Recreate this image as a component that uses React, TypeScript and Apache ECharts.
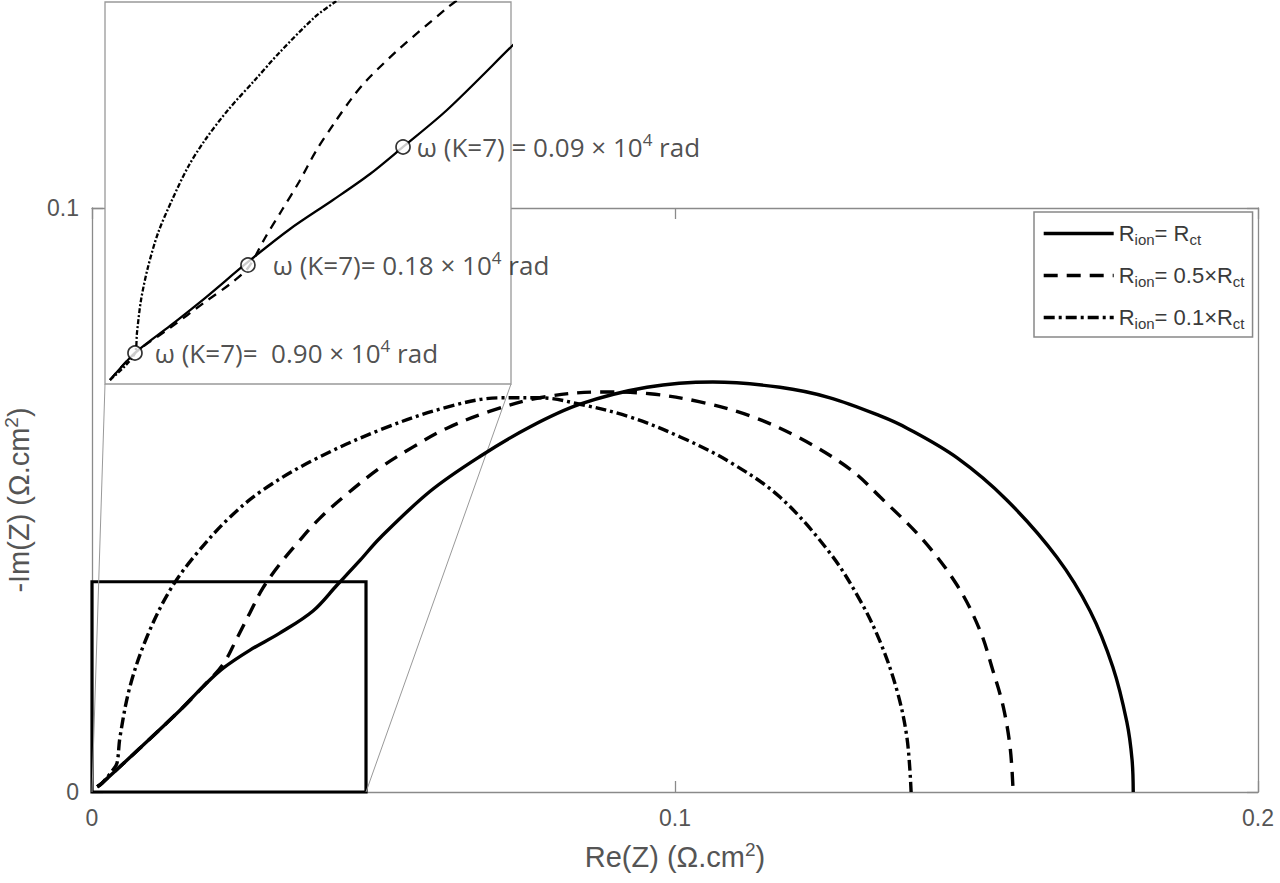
import React, { useEffect, useRef } from "react";
import * as echarts from "echarts";

// ---- Main plot data: [Re(Z), -Im(Z)] in Ω.cm² ----
const solidMain: [number, number][] = [
  [0.0009, 0.0009], [0.0017, 0.0015], [0.0082, 0.0075], [0.0151, 0.014], [0.019, 0.018],
  [0.0225, 0.0212], [0.0271, 0.0243], [0.0322, 0.0272], [0.0379, 0.031], [0.042, 0.0354],
  [0.046, 0.0397], [0.0494, 0.0435], [0.058, 0.0515], [0.0666, 0.0575], [0.0751, 0.0625],
  [0.0837, 0.0664], [0.0952, 0.0693], [0.1065, 0.0702], [0.118, 0.0693], [0.1266, 0.0675],
  [0.1352, 0.0644], [0.1398, 0.0623], [0.1484, 0.0572], [0.1569, 0.05], [0.1655, 0.0402],
  [0.1712, 0.031], [0.1751, 0.0214], [0.1775, 0.012], [0.1784, 0.0055], [0.1786, 0],
];
const dashedMain: [number, number][] = [
  [0.0009, 0.0009], [0.0017, 0.0015], [0.0082, 0.0075], [0.0151, 0.014], [0.019, 0.018],
  [0.0225, 0.0219], [0.0249, 0.0264], [0.0271, 0.0307], [0.0293, 0.0349], [0.0322, 0.039],
  [0.0352, 0.0426], [0.0391, 0.0469], [0.0437, 0.051], [0.0494, 0.0555], [0.0551, 0.0591],
  [0.0609, 0.0623], [0.0683, 0.0652], [0.0768, 0.0675], [0.0871, 0.0685], [0.0957, 0.0682],
  [0.1043, 0.0668], [0.1129, 0.0644], [0.1214, 0.0606], [0.13, 0.0553], [0.1352, 0.0505],
  [0.1425, 0.0432], [0.1484, 0.0354], [0.1523, 0.0277], [0.1545, 0.0209], [0.1563, 0.0146],
  [0.1575, 0.0075], [0.158, 0],
];
const dashDotMain: [number, number][] = [
  [0.0009, 0.0009], [0.0017, 0.0015], [0.0036, 0.0038], [0.0043, 0.005], [0.0048, 0.0094],
  [0.0065, 0.018], [0.0094, 0.0265], [0.0134, 0.0346], [0.018, 0.0409], [0.0237, 0.0471],
  [0.0293, 0.0517], [0.0379, 0.0568], [0.0494, 0.062], [0.0609, 0.0659], [0.07, 0.0675],
  [0.0768, 0.0675], [0.0837, 0.0664], [0.0923, 0.0642], [0.1009, 0.0608], [0.1094, 0.0565],
  [0.118, 0.0505], [0.1266, 0.0409], [0.1317, 0.0329], [0.1352, 0.0257], [0.1381, 0.0173],
  [0.1398, 0.0092], [0.1405, 0],
];

// zoom window shown in the inset
const zoomX: [number, number] = [0, 0.047];
const zoomY: [number, number] = [0, 0.036];

// ---- Inset data (same units, zoomed window) ----
const solidInset: [number, number][] = [
  [0.00058, 0.00038], [0.00347, 0.00292], [0.00752, 0.00547], [0.01158, 0.0081],
  [0.01655, 0.0115], [0.02142, 0.01461], [0.02639, 0.01734], [0.03068, 0.01979],
  [0.0345, 0.02234], [0.03959, 0.02582], [0.047, 0.03176], [0.0492, 0.03355],
];
const dashedInset: [number, number][] = [
  [0.00058, 0.00038], [0.00347, 0.00292], [0.00752, 0.00528], [0.01158, 0.00773],
  [0.01447, 0.00942], [0.01655, 0.01093], [0.01852, 0.01376], [0.02049, 0.0164],
  [0.02246, 0.01904], [0.02443, 0.02196], [0.02663, 0.02469], [0.02859, 0.02695],
  [0.03033, 0.02865], [0.03392, 0.03148], [0.03959, 0.03543], [0.0411, 0.03638],
];
const dashDotInset: [number, number][] = [
  [0.00058, 0.00038], [0.00347, 0.00292], [0.0037, 0.00481], [0.00417, 0.00792],
  [0.00498, 0.01103], [0.00614, 0.01423], [0.00776, 0.01734], [0.00961, 0.02045],
  [0.01158, 0.02299], [0.01424, 0.02582], [0.01736, 0.02865], [0.02026, 0.03129],
  [0.02431, 0.03459], [0.02663, 0.036], [0.02744, 0.03647],
];
const markerPoints: [number, number][] = [
  [0.00347, 0.00292], [0.01655, 0.01121], [0.0345, 0.02234],
];
const markerLabels = ["0.90", "0.18", "0.09"];
const markerPrefix = ["ω (K=7)=  ", "ω (K=7)= ", "ω (K=7) = "];
const markerGap = [12, 17, 6];

const seriesNames = ["Rion = Rct", "Rion = 0.5×Rct", "Rion = 0.1×Rct"];
const legendTexts = ["R{sub|ion}= R{sub|ct}", "R{sub|ion}= 0.5×R{sub|ct}", "R{sub|ion}= 0.1×R{sub|ct}"];

const xTicks = [0, 0.1, 0.2];
const yTicks = [0, 0.1];

export default function App() {
  const ref = useRef<HTMLDivElement>(null);

  useEffect(() => {
    if (!ref.current) return;
    const chart = echarts.init(ref.current, undefined, { renderer: "svg" });
    const axisGray = "#8a8a8a";
    const labelGray = "#555";
    const font = "Liberation Sans, Arial, sans-serif";
    const insetFont = "Open Sans, sans-serif";

    const mirrorAxis = {
      axisLine: { show: true, onZero: false, lineStyle: { color: axisGray, width: 1.3 } },
      axisTick: { show: true, inside: true, length: 11, lineStyle: { color: axisGray, width: 1.3 } },
      axisLabel: { show: false },
      splitLine: { show: false },
    };

    const mainLine = (name: string, data: [number, number][], type: any, extra: any = {}) => ({
      name,
      type: "line",
      xAxisIndex: 0,
      yAxisIndex: 0,
      data,
      smooth: 0.35,
      showSymbol: false,
      symbol: "none",
      lineStyle: { color: "#000", width: 3.4, type },
      itemStyle: { color: "#000" },
      z: 3,
      ...extra,
    });
    const insetLine = (name: string, data: [number, number][], type: any) => ({
      name,
      type: "line",
      xAxisIndex: 2,
      yAxisIndex: 2,
      data,
      smooth: 0.3,
      showSymbol: false,
      symbol: "none",
      lineStyle: { color: "#000", width: 2.3, type },
      z: 12,
      silent: true,
    });

    const nameStyle = {
      fontFamily: font, fontSize: 29, color: labelGray, lineHeight: 34,
      rich: { sup: { fontSize: 19, lineHeight: 19, verticalAlign: "top", color: labelGray, fontFamily: font } },
    };

    const option: any = {
      animation: false,
      backgroundColor: "#fff",
      textStyle: { fontFamily: font },
      grid: [
        { left: 92, top: 208, width: 1166, height: 584, show: false, containLabel: false, outerBoundsMode: "none" },
        { left: 105, top: 2, width: 406, height: 382, show: true, backgroundColor: "#fff", borderColor: "#999", borderWidth: 1.3, z: 10, containLabel: false, outerBoundsMode: "none" },
      ],
      legend: {
        data: seriesNames,
        orient: "vertical",
        left: 1034,
        top: 212,
        padding: [8, 8, 6, 8],
        itemGap: 15,
        itemWidth: 70,
        itemHeight: 12,
        borderColor: "#888",
        borderWidth: 1.5,
        backgroundColor: "#fff",
        selectedMode: false,
        itemStyle: { color: "rgba(0,0,0,0)", borderColor: "rgba(0,0,0,0)", borderWidth: 0, opacity: 0 },
        lineStyle: { width: 3.4, color: "#000" },
        formatter: (n: string) => legendTexts[seriesNames.indexOf(n)],
        textStyle: {
          fontFamily: font,
          fontSize: 22,
          color: "#3a3a3a",
          lineHeight: 27,
          rich: {
            sub: { fontSize: 15, lineHeight: 13, verticalAlign: "bottom", color: "#3a3a3a", fontFamily: font },
          },
        },
      },
      xAxis: [
        {
          type: "value", gridIndex: 0, position: "bottom", min: 0, max: 0.2, interval: 0.1,
          name: "Re(Z) (Ω.cm{sup|2})", nameLocation: "middle", nameGap: 48,
          nameTextStyle: nameStyle,
          axisLine: { show: true, onZero: false, lineStyle: { color: axisGray, width: 1.3 } },
          axisTick: { show: true, inside: true, length: 11, lineStyle: { color: axisGray, width: 1.3 } },
          axisLabel: { color: labelGray, fontSize: 23, margin: 14, fontFamily: font, formatter: (v: number) => (xTicks.includes(v) ? String(v) : "") },
          splitLine: { show: false },
        },
        { type: "value", gridIndex: 0, position: "top", min: 0, max: 0.2, interval: 0.1, ...mirrorAxis },
        { type: "value", gridIndex: 1, min: zoomX[0], max: zoomX[1], show: false },
      ],
      yAxis: [
        {
          type: "value", gridIndex: 0, position: "left", min: 0, max: 0.1, interval: 0.1,
          name: "-Im(Z) (Ω.cm{sup|2})", nameLocation: "middle", nameGap: 45, nameRotate: 90,
          nameTextStyle: nameStyle,
          axisLine: { show: true, onZero: false, lineStyle: { color: axisGray, width: 1.3 } },
          axisTick: { show: true, inside: true, length: 11, lineStyle: { color: axisGray, width: 1.3 } },
          axisLabel: { color: labelGray, fontSize: 23, margin: 13, fontFamily: font, formatter: (v: number) => (yTicks.includes(v) ? String(v) : "") },
          splitLine: { show: false },
        },
        { type: "value", gridIndex: 0, position: "right", min: 0, max: 0.1, interval: 0.1, ...mirrorAxis },
        { type: "value", gridIndex: 1, min: zoomY[0], max: zoomY[1], show: false },
      ],
      series: [
        mainLine(seriesNames[0], solidMain, "solid", {
          markArea: {
            silent: true,
            itemStyle: { color: "rgba(0,0,0,0)", borderColor: "#000", borderWidth: 3.2 },
            data: [[{ coord: [zoomX[0], zoomY[0]] }, { coord: [zoomX[1], zoomY[1]] }]],
          },
        }),
        mainLine(seriesNames[1], dashedMain, [14, 9]),
        mainLine(seriesNames[2], dashDotMain, [11, 4, 3, 4]),
        insetLine("inset-solid", solidInset, "solid"),
        insetLine("inset-dashed", dashedInset, [9, 7]),
        insetLine("inset-dashdot", dashDotInset, [5, 2, 2, 2]),
        {
          name: "markers",
          type: "scatter",
          xAxisIndex: 2,
          yAxisIndex: 2,
          symbol: "circle",
          symbolSize: 14,
          itemStyle: { color: "#fff", borderColor: "#000", borderWidth: 1.7 },
          z: 14,
          silent: true,
          data: markerPoints.map((p, i) => ({
            value: p,
            label: {
              show: true,
              position: "right",
              distance: markerGap[i],
              formatter: `${markerPrefix[i]}${markerLabels[i]} × 10{sup|4} rad`,
              fontFamily: insetFont,
              fontSize: 26,
              color: "#222",
              lineHeight: 32,
              rich: { sup: { fontSize: 17, lineHeight: 17, verticalAlign: "top", fontFamily: insetFont, color: "#222" } },
            },
          })),
        },
      ],
    };
    chart.setOption(option);

    const a = chart.convertToPixel({ xAxisIndex: 0, yAxisIndex: 0 }, [zoomX[0], zoomY[0]]) as number[];
    const b = chart.convertToPixel({ xAxisIndex: 0, yAxisIndex: 0 }, [zoomX[1], zoomY[0]]) as number[];
    const c = chart.convertToPixel({ xAxisIndex: 2, yAxisIndex: 2 }, [zoomX[0], zoomY[0]]) as number[];
    const d = chart.convertToPixel({ xAxisIndex: 2, yAxisIndex: 2 }, [zoomX[1], zoomY[0]]) as number[];
    chart.setOption({
      graphic: [
        { type: "line", shape: { x1: a[0], y1: a[1], x2: c[0], y2: c[1] }, style: { stroke: "#999", lineWidth: 1 }, z: 1, silent: true },
        { type: "line", shape: { x1: b[0], y1: b[1], x2: d[0], y2: d[1] }, style: { stroke: "#999", lineWidth: 1 }, z: 1, silent: true },
      ],
    });

    return () => chart.dispose();
  }, []);

  return <div ref={ref} style={{ position: "fixed", left: 0, top: 0, width: 1280, height: 883 }} />;
}
